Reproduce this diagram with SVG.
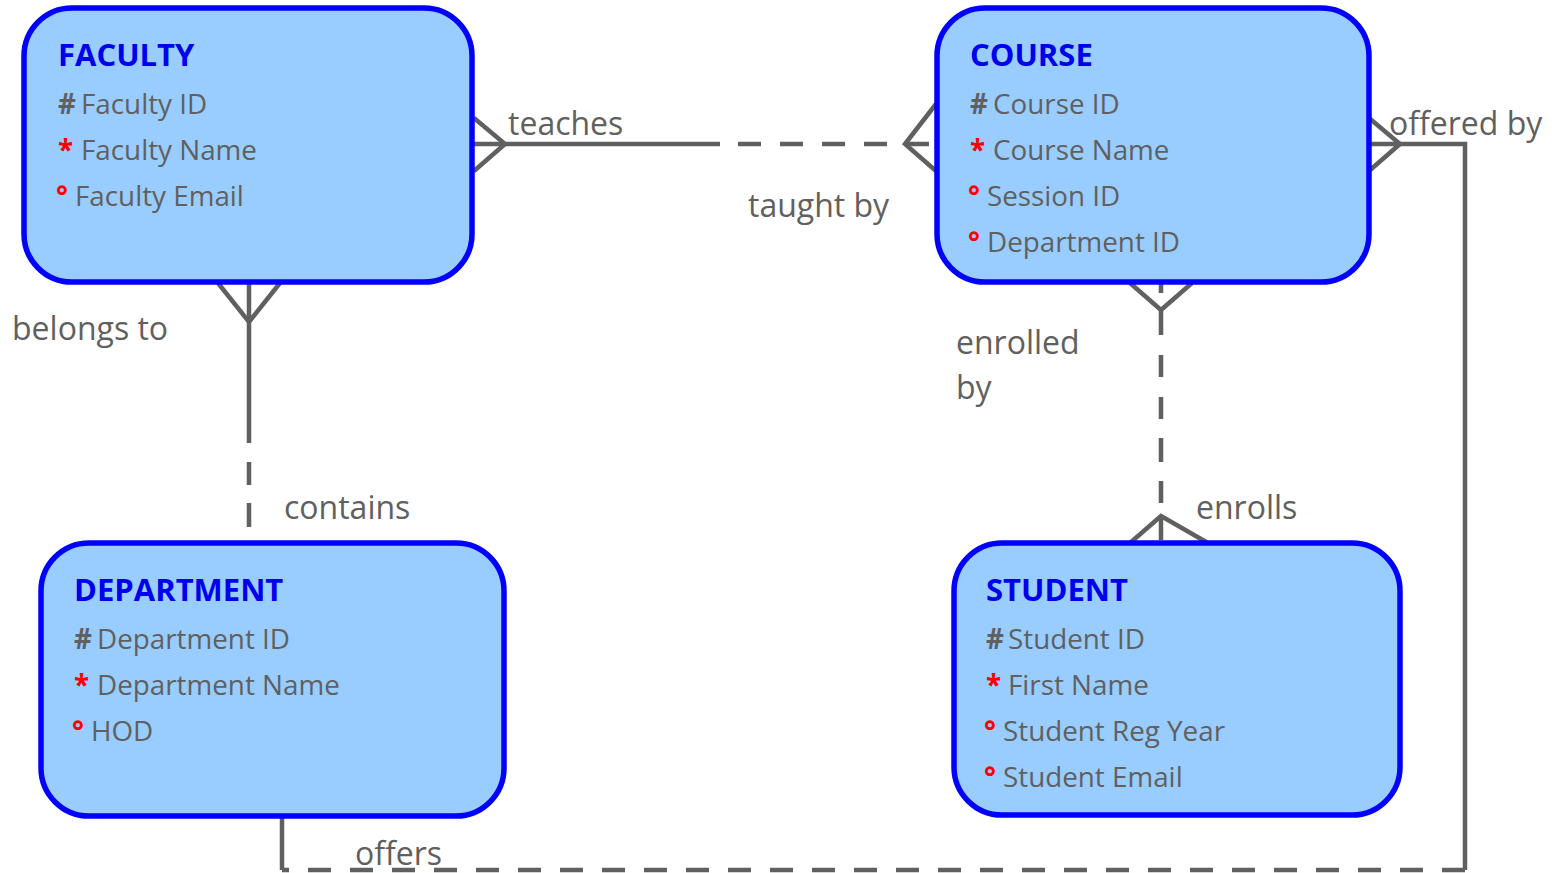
<svg xmlns="http://www.w3.org/2000/svg" width="1558" height="873" viewBox="0 0 1558 873">
<style>
.box{fill:#99CCFF;stroke:#0000FF;stroke-width:5.5}
.title{font-family:"Open Sans","Liberation Sans",sans-serif;font-weight:bold;font-size:31px;fill:#0000EE}
.attr{font-family:"Open Sans","Liberation Sans",sans-serif;font-size:27.8px;fill:#606060}
.b{font-weight:bold}
.red{fill:#FF0000;font-weight:bold}
.lbl{font-family:"Open Sans","Liberation Sans",sans-serif;font-size:32px;fill:#606060}
.ln{fill:none;stroke:#606060;stroke-width:4.5}
.dash{stroke-dasharray:23 19}
</style>
<rect width="1558" height="873" fill="#FFFFFF"/>

<g id="connectors">
  <!-- teaches / taught by -->
  <line class="ln" x1="474" y1="144" x2="720" y2="144"/>
  <line class="ln dash" x1="738" y1="144" x2="936" y2="144"/>
  <polyline class="ln" points="474,118 505,144 474,171"/>
  <polyline class="ln" points="936,104 905,144 936,171"/>
  <!-- offered by / offers -->
  <polyline class="ln" points="1369,118 1400,144 1369,171"/>
  <polyline class="ln" points="1369,144 1465,144 1465,870"/>
  <line class="ln dash" x1="1465" y1="870" x2="282" y2="870"/>
  <line class="ln" x1="282" y1="816" x2="282" y2="870"/>
  <!-- belongs to / contains -->
  <polyline class="ln" points="218,283 249,322 280,283"/>
  <line class="ln" x1="249" y1="283" x2="249" y2="443"/>
  <line class="ln" x1="249" y1="462" x2="249" y2="485"/>
  <line class="ln" x1="249" y1="503" x2="249" y2="527"/>
  <!-- enrolled by / enrolls -->
  <polyline class="ln" points="1130,283 1161,310 1192,283"/>
  <line class="ln" x1="1161" y1="283" x2="1161" y2="543" stroke-dasharray="10 17 25 20 22 20 22 19 24 19 22 12 25"/>
  <polyline class="ln" points="1130,543 1161,516 1208,543"/>
  <!-- labels -->
  <text class="lbl" x="508" y="135">teaches</text>
  <text class="lbl" x="748" y="217">taught by</text>
  <text class="lbl" x="1389" y="135">offered by</text>
  <text class="lbl" x="12" y="340">belongs to</text>
  <text class="lbl" x="284" y="519">contains</text>
  <text class="lbl" x="956" y="354">enrolled</text>
  <text class="lbl" x="956" y="399">by</text>
  <text class="lbl" x="1196" y="519">enrolls</text>
  <text class="lbl" x="355" y="865">offers</text>
</g>

<g id="faculty">
  <rect class="box" x="24" y="8" width="448" height="274" rx="48"/>
  <text class="title" x="58" y="66">FACULTY</text>
  <text class="attr" x="58" y="114"><tspan class="b">#</tspan><tspan x="81">Faculty ID</tspan></text>
  <text class="attr" x="58" y="160"><tspan class="red">*</tspan><tspan x="81">Faculty Name</tspan></text>
  <text class="attr" x="56" y="206"><tspan class="red">°</tspan><tspan x="75">Faculty Email</tspan></text>
</g>

<g id="course">
  <rect class="box" x="937" y="8" width="432" height="274" rx="48"/>
  <text class="title" x="970" y="66">COURSE</text>
  <text class="attr" x="970" y="114"><tspan class="b">#</tspan><tspan x="993">Course ID</tspan></text>
  <text class="attr" x="970" y="160"><tspan class="red">*</tspan><tspan x="993">Course Name</tspan></text>
  <text class="attr" x="968" y="206"><tspan class="red">°</tspan><tspan x="987">Session ID</tspan></text>
  <text class="attr" x="968" y="252"><tspan class="red">°</tspan><tspan x="987">Department ID</tspan></text>
</g>

<g id="department">
  <rect class="box" x="41" y="543" width="463" height="273" rx="48"/>
  <text class="title" x="74" y="601">DEPARTMENT</text>
  <text class="attr" x="74" y="649"><tspan class="b">#</tspan><tspan x="97">Department ID</tspan></text>
  <text class="attr" x="74" y="695"><tspan class="red">*</tspan><tspan x="97">Department Name</tspan></text>
  <text class="attr" x="72" y="741"><tspan class="red">°</tspan><tspan x="91">HOD</tspan></text>
</g>

<g id="student">
  <rect class="box" x="954" y="543" width="446" height="272" rx="48"/>
  <text class="title" x="986" y="601">STUDENT</text>
  <text class="attr" x="986" y="649"><tspan class="b">#</tspan><tspan x="1008">Student ID</tspan></text>
  <text class="attr" x="986" y="695"><tspan class="red">*</tspan><tspan x="1008">First Name</tspan></text>
  <text class="attr" x="984" y="741"><tspan class="red">°</tspan><tspan x="1003">Student Reg Year</tspan></text>
  <text class="attr" x="984" y="787"><tspan class="red">°</tspan><tspan x="1003">Student Email</tspan></text>
</g>
</svg>
